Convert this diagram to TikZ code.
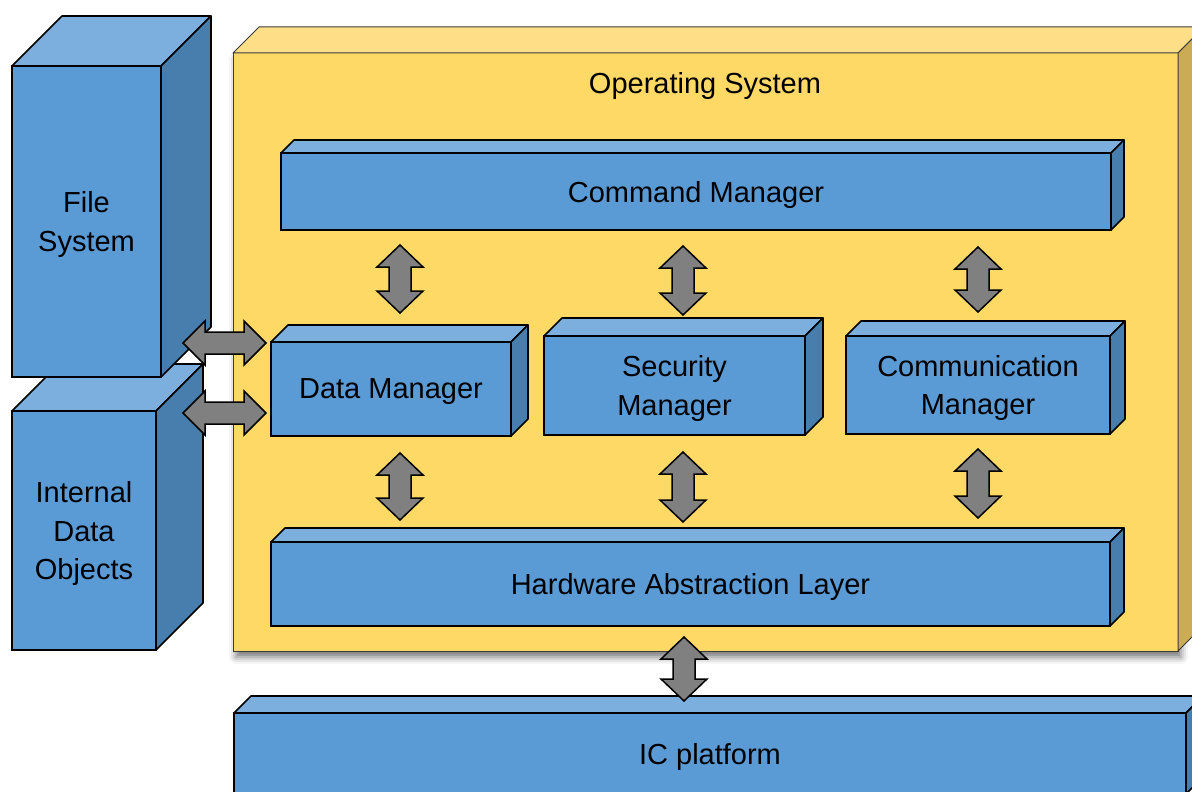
\documentclass[tikz,border=0pt]{standalone}
\usepackage{fontspec}
\setmainfont{Liberation Sans}
\usetikzlibrary{shadows.blur}
\definecolor{bfront}{HTML}{5B9BD5}
\definecolor{btop}{HTML}{7DAFDE}
\definecolor{bside}{HTML}{487EAE}
\definecolor{yfront}{HTML}{FED966}
\definecolor{ytop}{HTML}{FEDF88}
\definecolor{yside}{HTML}{CBAC55}
\definecolor{agray}{HTML}{808080}
\definecolor{oline}{HTML}{3A3A3A}
\tikzset{
  txt/.style={font=\fontsize{29}{38.5}\selectfont, text=black, align=center},
  blue front/.style={draw=black, line width=1.6pt, fill=bfront, inner sep=0pt, outer sep=0pt, txt, text depth=0pt},
  blue top/.style={draw=black, line width=1.6pt, fill=btop, line join=round},
  blue side/.style={draw=black, line width=1.6pt, fill=bside, line join=round},
  gold front/.style={draw=oline, line width=1pt, fill=yfront, inner sep=0pt, outer sep=0pt, txt,
     blur shadow={shadow xshift=3pt, shadow yshift=-6pt, shadow blur radius=7pt, shadow opacity=55}},
  gold top/.style={draw=oline, line width=1pt, fill=ytop, line join=round},
  gold side/.style={draw=oline, line width=1pt, fill=yside, line join=round},
  arrowst/.style={draw=black, line width=1.5pt, fill=agray, line join=miter},
}
% name, x1, y1, x2, y2, depth, text, style family
\newcommand{\cuboid}[8]{%
  \node[#8 front, minimum width={#4-#2}, minimum height={#5-#3}, anchor=north west] (#1) at (#2,#3) {#7};
  \filldraw[#8 top] (#1.north west) -- ++(#6,-#6) -- ([shift={(#6,-#6)}]#1.north east) -- (#1.north east) -- cycle;
  \filldraw[#8 side] (#1.north east) -- ++(#6,-#6) -- ([shift={(#6,-#6)}]#1.south east) -- (#1.south east) -- cycle;
}
% vertical double arrow: name, x, ytop, ybottom
\newcommand{\varrow}[4]{%
  \coordinate (#1-a) at (#2,#3); \coordinate (#1-b) at (#2,#4);
  \filldraw[arrowst] (#1-a) -- ({#2+23},{#3+22}) -- ({#2+11},{#3+22}) -- ({#2+11},{#4-22}) -- ({#2+23},{#4-22})
    -- (#1-b) -- ({#2-23},{#4-22}) -- ({#2-11},{#4-22}) -- ({#2-11},{#3+22}) -- ({#2-23},{#3+22}) -- cycle;
}
% horizontal double arrow: name, y, xleft, xright
\newcommand{\harrow}[4]{%
  \coordinate (#1-a) at (#3,#2); \coordinate (#1-b) at (#4,#2);
  \filldraw[arrowst] (#1-a) -- ({#3+22},{#2-22}) -- ({#3+22},{#2-11}) -- ({#4-22},{#2-11}) -- ({#4-22},{#2-22})
    -- (#1-b) -- ({#4-22},{#2+22}) -- ({#4-22},{#2+11}) -- ({#3+22},{#2+11}) -- ({#3+22},{#2+22}) -- cycle;
}
\begin{document}
\begin{tikzpicture}[x=1pt, y=-1pt]
\useasboundingbox (0,0) rectangle (1192,792);
\clip (0,0) rectangle (1192,792);
% left storage blocks
\cuboid{ido}{12}{411}{156}{650}{47}{Internal\\Data\\Objects}{blue}
\cuboid{fs}{12}{66}{161}{377}{50}{File\\System}{blue}
% operating system
\cuboid{os}{233}{53}{1178}{651}{26}{}{gold}
\node[txt, anchor=base] (ostitle) at (705,93) {Operating System};
\cuboid{cmd}{281}{153}{1111}{230}{13}{Command Manager}{blue}
\cuboid{dm}{271}{342}{511}{436}{17}{Data Manager}{blue}
\cuboid{sm}{544}{336}{805}{435}{18}{Security\\Manager}{blue}
\cuboid{cm}{846}{336}{1110}{434}{15}{Communication\\Manager}{blue}
\cuboid{hal}{271}{542}{1110}{626}{14}{Hardware Abstraction Layer}{blue}
% IC platform
\cuboid{ic}{234}{713}{1186}{794}{17}{IC platform}{blue}
% arrows
\varrow{a1}{400}{245}{313}
\varrow{a2}{683}{246}{315}
\varrow{a3}{978}{247}{312}
\varrow{a4}{400}{453}{520}
\varrow{a5}{683}{452}{522}
\varrow{a6}{978}{449}{518}
\varrow{a7}{684}{637}{701}
\harrow{h1}{343}{183}{266}
\harrow{h2}{413}{183}{266}
\end{tikzpicture}
\end{document}
